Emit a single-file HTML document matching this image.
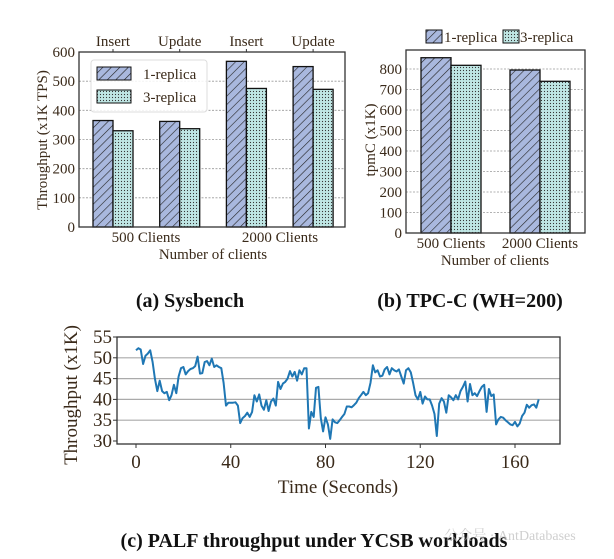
<!DOCTYPE html>
<html><head><meta charset="utf-8"><style>
body{margin:0;background:#fff;}
svg{display:block;font-family:"Liberation Serif","Noto Serif CJK SC",serif;}
.t{fill:#3a2a1a;}
</style></head><body>
<svg id="s" width="614" height="559" viewBox="0 0 614 559">
<defs>
<pattern id="hatch" patternUnits="userSpaceOnUse" width="6" height="6" patternTransform="rotate(45)">
<rect width="6" height="6" fill="#a9b8de"/><line x1="0" y1="0" x2="0" y2="6" stroke="#222" stroke-width="1.2"/></pattern>
<pattern id="dots" patternUnits="userSpaceOnUse" width="3" height="3">
<rect width="3" height="3" fill="#bfe6e4"/><circle cx="1.5" cy="1.5" r="0.6" fill="#333"/></pattern>
</defs>
<g id="ga"></g>
<g id="gb"></g>
<g id="gc"></g>
<text x="190" y="307" text-anchor="middle" font-size="20" font-weight="bold" fill="#111">(a) Sysbench</text>
<text x="470" y="307" text-anchor="middle" font-size="20" font-weight="bold" fill="#111">(b) TPC-C (WH=200)</text>
<text x="314" y="547" text-anchor="middle" font-size="20" font-weight="bold" fill="#111">(c) PALF throughput under YCSB workloads</text>
<text x="510" y="540" text-anchor="middle" font-size="14" fill="#bbb" opacity="0.7">公众号 · AntDatabases</text>
</svg>
<script>
const NS="http://www.w3.org/2000/svg";
function mk(p,tag,a,txt){const e=document.createElementNS(NS,tag);for(const k in a)e.setAttribute(k,a[k]);if(txt!==undefined)e.textContent=txt;p.appendChild(e);return e;}

// ---- chart a data
const aTopLabels=["Insert","Update","Insert","Update"];
const aGroups=["500 Clients","2000 Clients"];
const aOne=[365,362,568,550];
const aThree=[330,337,475,472];
const aTicks=[0,100,200,300,400,500,600];
// ---- chart b data
const bGroups=["500 Clients","2000 Clients"];
const bOne=[855,795];
const bThree=[818,740];
const bTicks=[0,100,200,300,400,500,600,700,800];
// ---- chart c data
const cVals=[51.8,52.3,52,48.5,50.5,51,51.8,49,45,42,44.5,42,41.5,41.8,39.8,41,43.5,41.5,45.5,47.5,47.8,46,46.8,47.3,47.5,48,50.3,46.2,46.3,49,49.2,48.2,49.8,47.8,48.2,47.8,47.5,44,38.5,39.2,39.2,39.2,39.3,38.5,34.3,35.5,36,36.8,35.8,37,41,39.5,41.2,38.5,37.5,39.8,37.2,39.5,40.2,38.5,44.2,42.5,43.8,44.2,45,46.8,45.5,46.6,44.5,47,46,47.5,47.5,33,37,35.8,42.8,43,35.5,32.3,35.7,34,30.5,35.2,34.5,34.3,35,35.8,36.5,38.3,38.3,38.1,38.6,39.2,40.3,41,41.8,41,41.5,44,48.2,46.5,47,45.5,45.7,47.2,47.8,46,47.5,47,46.7,47.2,45.5,43.8,47,47.5,46.5,44,41,40,41.8,39,40.7,40,40,38.5,36.5,31.2,39,40.3,39.5,36.8,41,40.5,39.8,41,40,42,43,44.3,39.5,43.7,41,41.5,40.8,42,43,43.5,37,42.5,40.8,41.2,34,35.2,35.8,35.6,35,34.5,34,33.8,34.6,33.5,34.2,36,36.8,38.7,38,38.6,38.8,38,40];
const cYTicks=[30,35,40,45,50,55];
const cXTicks=[0,40,80,120,160];

// ---------- chart a
(function(){
const g=document.getElementById('ga');
const L=79,R=345,T=52,B=227;
const y=v=>B-(v/600)*(B-T);
const xc=i=>113+i*66.7;
const bw=20;
aTicks.forEach(v=>{
 if(v>0&&v<600){const l=mk(g,'line',{x1:L,x2:R,y1:y(v),y2:y(v),stroke:'#999','stroke-width':0.8,'stroke-dasharray':'2,1.5'});}
 const t=mk(g,'text',{x:L-4,y:y(v)+5,'text-anchor':'end','font-size':15,class:'t'},v);
 
});
aOne.forEach((v,i)=>{
 const r=mk(g,'rect',{x:xc(i)-bw,y:y(v),width:bw,height:B-y(v),fill:'url(#hatch)',stroke:'#111','stroke-width':1.3});
 
 const r2=mk(g,'rect',{x:xc(i),y:y(aThree[i]),width:bw,height:B-y(aThree[i]),fill:'url(#dots)',stroke:'#111','stroke-width':1.3});
 
 const t=mk(g,'text',{x:xc(i),y:46,'text-anchor':'middle','font-size':15,class:'t'},aTopLabels[i]);
 
 mk(g,'line',{x1:xc(i),x2:xc(i),y1:T,y2:T-3,stroke:'#333'});
});
aGroups.forEach((s,i)=>{const t=mk(g,'text',{x:146+i*134,y:242,'text-anchor':'middle','font-size':15,class:'t'},s);
 });
const fr=mk(g,'rect',{x:L,y:T,width:R-L,height:B-T,fill:'none',stroke:'#333','stroke-width':1.3});

const lg=mk(g,'g',{});
mk(lg,'rect',{x:91,y:60,width:116,height:52,rx:3,fill:'#fff','fill-opacity':0.85,stroke:'#ddd'});
mk(lg,'rect',{x:97,y:67,width:34,height:13,fill:'url(#hatch)',stroke:'#111'});
mk(lg,'rect',{x:97,y:90,width:34,height:13,fill:'url(#dots)',stroke:'#111'});
mk(lg,'text',{x:143,y:79,'font-size':15,class:'t'},'1-replica');
mk(lg,'text',{x:143,y:102,'font-size':15,class:'t'},'3-replica');
const yl=mk(g,'text',{x:0,y:0,'text-anchor':'middle','font-size':15,class:'t',transform:'translate(47,140) rotate(-90)'},'Throughput (x1K TPS)');

const xl=mk(g,'text',{x:213,y:259,'text-anchor':'middle','font-size':15,class:'t'},'Number of clients');

})();

// ---------- chart b
(function(){
const g=document.getElementById('gb');
const L=406,R=585,T=50,B=233;
const y=v=>B-(v/800)*(B-69);
const xc=i=>451+i*89;
const bw=30;
bTicks.forEach(v=>{
 if(v>0){const l=mk(g,'line',{x1:L,x2:R,y1:y(v),y2:y(v),stroke:'#999','stroke-width':0.8,'stroke-dasharray':'2,1.5'});}
 const t=mk(g,'text',{x:L-4,y:y(v)+5,'text-anchor':'end','font-size':15,class:'t'},v);
 
});
bOne.forEach((v,i)=>{
 const r=mk(g,'rect',{x:xc(i)-bw,y:y(v),width:bw,height:B-y(v),fill:'url(#hatch)',stroke:'#111','stroke-width':1.3});
 
 const r2=mk(g,'rect',{x:xc(i),y:y(bThree[i]),width:bw,height:B-y(bThree[i]),fill:'url(#dots)',stroke:'#111','stroke-width':1.3});
 
 const t=mk(g,'text',{x:xc(i),y:248,'text-anchor':'middle','font-size':15,class:'t'},bGroups[i]);
 
});
const fr=mk(g,'rect',{x:L,y:T,width:R-L,height:B-T,fill:'none',stroke:'#333','stroke-width':1.3});

const lg=mk(g,'g',{});
mk(lg,'rect',{x:426,y:30,width:16,height:13,fill:'url(#hatch)',stroke:'#111'});
mk(lg,'text',{x:444,y:42,'font-size':15,class:'t'},'1-replica');
mk(lg,'rect',{x:503,y:30,width:16,height:13,fill:'url(#dots)',stroke:'#111'});
mk(lg,'text',{x:520,y:42,'font-size':15,class:'t'},'3-replica');
const yl=mk(g,'text',{x:0,y:0,'text-anchor':'middle','font-size':15,class:'t',transform:'translate(375,140) rotate(-90)'},'tpmC (x1K)');

const xl=mk(g,'text',{x:495,y:265,'text-anchor':'middle','font-size':15,class:'t'},'Number of clients');

})();

// ---------- chart c
(function(){
const g=document.getElementById('gc');
const L=117,R=560,T=337,B=444;
const x=t=>136+t*(379/160);
const y=v=>441-(v-30)*(104/25);
cYTicks.forEach(v=>{
 if(v>30&&v<55){const l=mk(g,'line',{x1:L,x2:R,y1:y(v),y2:y(v),stroke:'#aaa','stroke-width':1.2});}
 mk(g,'line',{x1:L,x2:L-4,y1:y(v),y2:y(v),stroke:'#333'});
 const t=mk(g,'text',{x:L-5,y:y(v)+6,'text-anchor':'end','font-size':19,class:'t'},v);
 
});
cXTicks.forEach(v=>{
 mk(g,'line',{x1:x(v),x2:x(v),y1:B,y2:B+4,stroke:'#333'});
 const t=mk(g,'text',{x:x(v),y:468,'text-anchor':'middle','font-size':19,class:'t'},v);
 
});
const pts=cVals.map((v,i)=>x(i).toFixed(1)+','+y(v).toFixed(1)).join(' ');
const pl=mk(g,'polyline',{points:pts,fill:'none',stroke:'#1f77b4','stroke-width':2,'stroke-linejoin':'round'});

const fr=mk(g,'rect',{x:L,y:T,width:R-L,height:B-T,fill:'none',stroke:'#333','stroke-width':1.3});

const yl=mk(g,'text',{x:0,y:0,'text-anchor':'middle','font-size':19,class:'t',transform:'translate(77,395) rotate(-90)'},'Throughput (x1K)');

const xl=mk(g,'text',{x:338,y:493,'text-anchor':'middle','font-size':19,class:'t'},'Time (Seconds)');

})();
</script>
</body></html>
